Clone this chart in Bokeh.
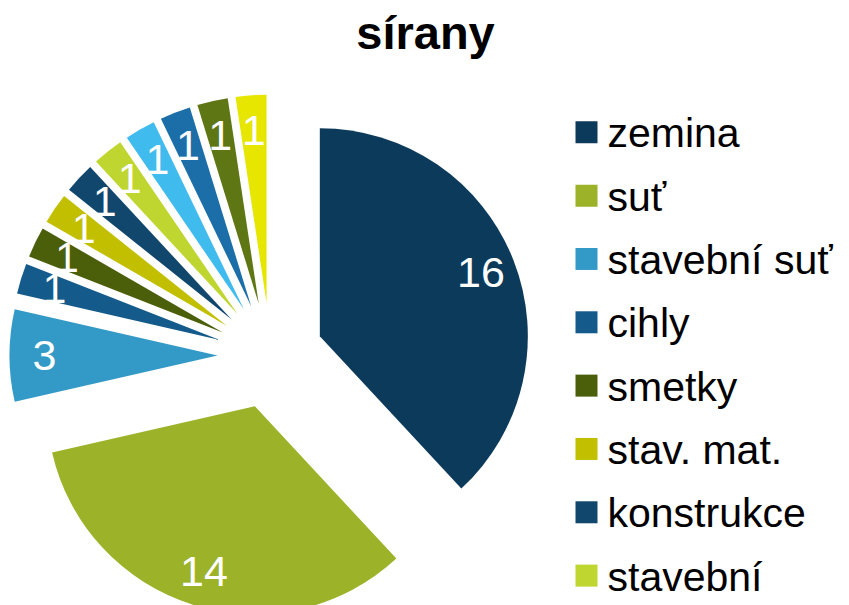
import math
from bokeh.plotting import figure
from bokeh.models import Range1d, ColumnDataSource
from bokeh.core.properties import value
from bokeh.embed import file_html
from bokeh.resources import INLINE

# ---- data ----
title = "sírany"
categories = ["zemina", "suť", "stavební suť", "cihly", "smetky", "stav. mat.",
              "konstrukce", "stavební", "položka 9", "položka 10", "položka 11", "položka 12"]
values = [16, 14, 3, 1, 1, 1, 1, 1, 1, 1, 1, 1]
colors = ["#0c3a5b", "#9cb229", "#3399c6", "#145a8a", "#4b5e0a", "#c1bf00",
          "#11476d", "#bfd630", "#40bbee", "#1b6ea8", "#5f7614", "#e6e600"]
legend_count = 8  # only the first 8 legend entries fit

# ---- layout (pixel-like data space; y measured upward) ----
W, H = 849, 605
def sy(y_screen):
    return H - y_screen

cx, cy = 270, sy(355)
R = 208
explode = 53
label_r = 226

total = float(sum(values))
cum = 0.0
xs, ys, sa, ea, lx, ly, labels = [], [], [], [], [], [], []
for v in values:
    t0 = 2 * math.pi * cum / total
    t1 = 2 * math.pi * (cum + v) / total
    tm = (t0 + t1) / 2
    dx, dy = math.sin(tm), math.cos(tm)
    xs.append(cx + explode * dx)
    ys.append(cy + explode * dy)
    sa.append(math.pi / 2 - t0)
    ea.append(math.pi / 2 - t1)
    lx.append(cx + label_r * dx)
    ly.append(cy + label_r * dy)
    labels.append(str(v))
    cum += v

src = ColumnDataSource(dict(x=xs, y=ys, sa=sa, ea=ea, color=colors, cat=categories))

p = figure(width=W, height=H, output_backend="svg", toolbar_location=None,
           x_range=Range1d(0, W), y_range=Range1d(0, H),
           min_border=0, outline_line_color=None, background_fill_color="white",
           border_fill_color="white")
p.axis.visible = False
p.grid.visible = False

p.wedge(x="x", y="y", radius=R, start_angle="sa", end_angle="ea",
        direction="clock", fill_color="color", line_color=None, source=src)

p.text(x=lx, y=ly, text=labels, text_color="white", text_font=value("Liberation Sans"),
       text_font_size="43px", text_align="center", text_baseline="middle")

# title
p.text(x=[425], y=[sy(32)], text=[title], text_font=value("Liberation Sans"),
       text_font_style="bold", text_font_size="47px", text_color="black",
       text_align="center", text_baseline="middle")

# legend (manual)
row0, step = 131.8, 63.33
lg_y = [sy(row0 + step * i) for i in range(legend_count)]
lg_ty = [sy(row0 + 1 + step * i) for i in range(legend_count)]
p.rect(x=[586] * legend_count, y=lg_y, width=22, height=22,
       fill_color=colors[:legend_count], line_color=None)
p.text(x=[607] * legend_count, y=lg_ty, text=categories[:legend_count],
       text_font=value("Liberation Sans"), text_font_size="41px", text_color="black",
       text_align="left", text_baseline="middle")

open("out.html", "w").write(file_html(p, INLINE))
